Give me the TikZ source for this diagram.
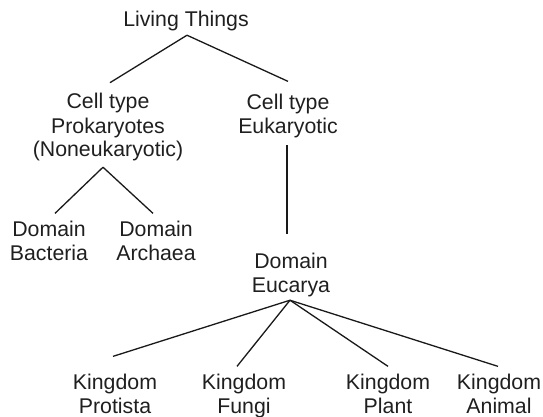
\documentclass[tikz,border=0pt]{standalone}
\usepackage{fontspec}
\setmainfont{Liberation Sans}
\begin{document}
\begin{tikzpicture}[x=1pt,y=-1pt,
  lbl/.style={anchor=base,inner sep=0pt,align=center,font=\fontsize{21.3}{24}\selectfont,text=black!88},
  link/.style={line width=1.3pt,black!90}]
\useasboundingbox (0,0) rectangle (543,417);
\node[lbl] (living) at (186,27) {Living Things};
\node[lbl] (prok) at (108,157) {Cell type\\Prokaryotes\\(Noneukaryotic)};
\node[lbl] (euk) at (288,133) {Cell type\\Eukaryotic};
\node[lbl] (bact) at (49,260) {Domain\\Bacteria};
\node[lbl] (arch) at (156,260) {Domain\\Archaea};
\node[lbl] (eucarya) at (291,292) {Domain\\Eucarya};
\node[lbl] (protista) at (115,413) {Kingdom\\Protista};
\node[lbl] (fungi) at (244,413) {Kingdom\\Fungi};
\node[lbl] (plant) at (388,413) {Kingdom\\Plant};
\node[lbl] (animal) at (499,413) {Kingdom\\Animal};
\draw[link] ([xshift=1pt,yshift=-3.6pt]living.south) -- ([xshift=2pt,yshift=10.7pt]prok.north);
\draw[link] ([xshift=1pt,yshift=-3.6pt]living.south) -- ([yshift=12pt]euk.north);
\draw[link] ([xshift=-5pt,yshift=-5.6pt]prok.south) -- ([xshift=6pt,yshift=7pt]bact.north);
\draw[link] ([xshift=-5pt,yshift=-5.6pt]prok.south) -- ([xshift=-3pt,yshift=7pt]arch.north);
\draw[link] ([xshift=-1pt,yshift=-7.6pt]euk.south) -- ([xshift=-4pt,yshift=18pt]eucarya.north);
\draw[link] ([xshift=-1pt,yshift=-3.6pt]eucarya.south) -- ([xshift=-2pt,yshift=17pt]protista.north);
\draw[link] ([xshift=-1pt,yshift=-3.6pt]eucarya.south) -- ([xshift=-7pt,yshift=7pt]fungi.north);
\draw[link] ([xshift=-1pt,yshift=-3.6pt]eucarya.south) -- ([yshift=7pt]plant.north);
\draw[link] ([xshift=-1pt,yshift=-3.6pt]eucarya.south) -- ([xshift=-1pt,yshift=7pt]animal.north);
\end{tikzpicture}
\end{document}
